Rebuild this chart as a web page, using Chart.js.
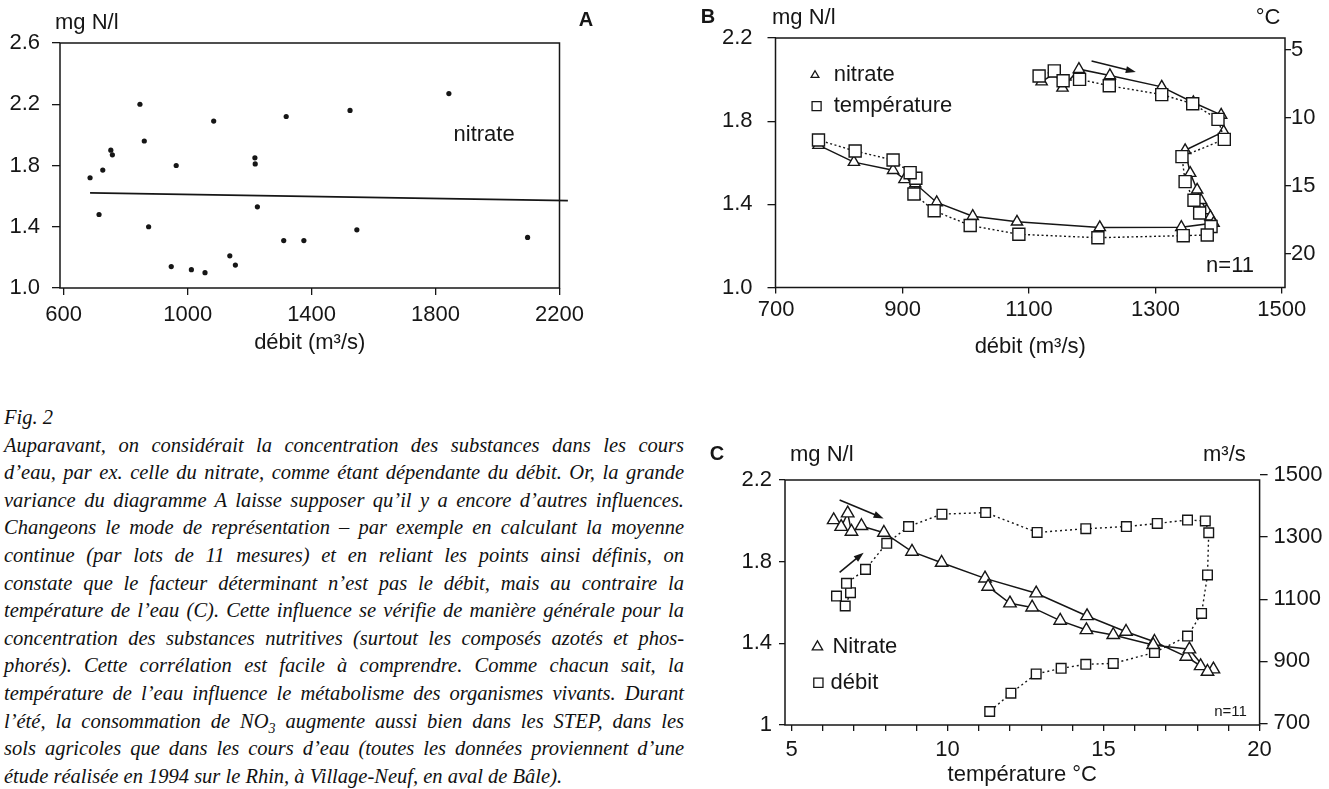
<!DOCTYPE html>
<html lang="fr">
<head>
<meta charset="utf-8">
<title>Nitrate, débit et température – Rhin 1994</title>
<script src="https://cdn.jsdelivr.net/npm/chart.js@4.4.1/dist/chart.umd.min.js"></script>
<style>
  html, body { margin: 0; padding: 0; background: #fff; }
  body { position: relative; width: 1329px; height: 789px; overflow: hidden; }
  canvas { position: absolute; }
  #chartA { left: 0; top: 0; }
  #chartB { left: 690px; top: 0; }
  #chartC { left: 690px; top: 400px; }
  .caption {
    position: absolute; left: 4px; top: 404px; width: 680px;
    font-family: "Liberation Serif", "DejaVu Serif", serif;
    font-style: italic; font-size: 20.5px; line-height: 27.6px; color: #111;
  }
  .caption div { text-align: justify; text-align-last: justify; white-space: nowrap; height: 27.6px; }
  .caption div.plain { text-align-last: left; }
</style>
</head>
<body>
<canvas id="chartA" width="620" height="360"></canvas>
<canvas id="chartB" width="639" height="360"></canvas>
<canvas id="chartC" width="639" height="389"></canvas>

<div class="caption">
  <div class="plain">Fig. 2</div>
  <div>Auparavant, on considérait la concentration des substances dans les cours</div>
  <div>d’eau, par ex. celle du nitrate, comme étant dépendante du débit. Or, la grande</div>
  <div>variance du diagramme A laisse supposer qu’il y a encore d’autres influences.</div>
  <div>Changeons le mode de représentation – par exemple en calculant la moyenne</div>
  <div>continue (par lots de 11 mesures) et en reliant les points ainsi définis, on</div>
  <div>constate que le facteur déterminant n’est pas le débit, mais au contraire la</div>
  <div>température de l’eau (C). Cette influence se vérifie de manière générale pour la</div>
  <div>concentration des substances nutritives (surtout les composés azotés et phos-</div>
  <div>phorés). Cette corrélation est facile à comprendre. Comme chacun sait, la</div>
  <div>température de l’eau influence le métabolisme des organismes vivants. Durant</div>
  <div>l’été, la consommation de NO<sub style="font-size:14px;line-height:0">3</sub> augmente aussi bien dans les STEP, dans les</div>
  <div>sols agricoles que dans les cours d’eau (toutes les données proviennent d’une</div>
  <div class="plain">étude réalisée en 1994 sur le Rhin, à Village-Neuf, en aval de Bâle).</div>
</div>

<script>
// ---- A: single measurements, nitrate against discharge ----
const debitA   = [685, 714, 726, 752, 757, 846, 860, 874, 947, 963, 1012, 1056, 1084,
                  1136, 1154, 1217, 1218, 1225, 1310, 1318, 1375, 1524, 1546, 1843, 2097];
const nitrateA = [1.72, 1.48, 1.77, 1.90, 1.87, 2.20, 1.96, 1.40, 1.14, 1.80, 1.12, 1.10, 2.09,
                  1.21, 1.15, 1.85, 1.81, 1.53, 1.31, 2.12, 1.31, 2.16, 1.38, 2.27, 1.33];
const trendDebitA   = [685, 2227];
const trendNitrateA = [1.621, 1.571];
const ticksDebitA   = [600, 1000, 1400, 1800, 2200];
const ticksNitrateA = [1.0, 1.4, 1.8, 2.2, 2.6];

// ---- B: running means (n=11) against discharge ----
const debitNitrateB = [1120, 1141, 1153, 1179, 1228, 1310, 1360, 1404, 1408, 1347, 1355, 1366, 1372,
                       1381, 1387, 1392, 1341, 1212, 1081, 1011, 954, 920, 903, 885, 823, 767];
const nitrateB      = [1.99, 2.03, 1.96, 2.05, 2.02, 1.965, 1.89, 1.83, 1.75, 1.66, 1.55, 1.47, 1.42,
                       1.37, 1.34, 1.31, 1.29, 1.289, 1.316, 1.343, 1.409, 1.50, 1.52, 1.564, 1.603, 1.685];
const debitTempB = [1116, 1140, 1154, 1180, 1227, 1310, 1359, 1399, 1409, 1342, 1347, 1361, 1370,
                    1388, 1382, 1344, 1209, 1084, 1007, 950, 918, 921, 912, 885, 825, 767];
const tempB      = [6.91, 6.54, 7.26, 7.16, 7.63, 8.28, 8.95, 10.1, 11.57, 12.84, 14.68, 16.05, 16.98,
                    17.98, 18.6, 18.65, 18.8, 18.55, 17.9, 16.82, 15.59, 14.43, 14.02, 13.09, 12.43, 11.62];
const ticksDebitB   = [700, 900, 1100, 1300, 1500];
const ticksNitrateB = [1.0, 1.4, 1.8, 2.2];
const ticksTempB    = [5, 10, 15, 20];

// ---- C: running means (n=11) against water temperature ----
const tempNitrateC = [6.35, 6.59, 6.80, 6.92, 7.24, 7.96, 8.86, 9.81, 11.20, 12.84, 14.47, 15.72, 16.63,
                      17.65, 18.11, 18.52, 18.33, 17.75, 16.59, 15.31, 14.45, 13.61, 12.71, 12.00, 11.30];
const nitrateC     = [2.004, 1.971, 2.037, 1.947, 1.975, 1.942, 1.849, 1.795, 1.718, 1.645, 1.534, 1.457, 1.408,
                      1.335, 1.289, 1.273, 1.261, 1.371, 1.392, 1.441, 1.465, 1.511, 1.576, 1.596, 1.678];
const tempDebitC = [6.44, 6.72, 6.89, 6.76, 7.37, 8.05, 8.75, 9.82, 11.22, 12.87, 14.43, 15.73, 16.72,
                    17.69, 18.26, 18.37, 18.33, 18.14, 17.69, 16.63, 15.31, 14.43, 13.64, 12.84, 12.03, 11.35];
const debitC     = [1110, 1078, 1121, 1151, 1196, 1280, 1334, 1374, 1379, 1315, 1327, 1334, 1344,
                    1355, 1352, 1314, 1178, 1054, 981, 928, 893, 890, 877, 859, 797, 738];
const ticksTempC    = [5, 6, 7, 8, 9, 10, 11, 12, 13, 14, 15, 16, 17, 18, 19, 20];
const ticksNitrateC = [1, 1.4, 1.8, 2.2];
const ticksDebitC   = [700, 900, 1100, 1300, 1500];

const ink = '#161616';
const sans = '"Liberation Sans", Arial, Helvetica, sans-serif';

Chart.defaults.font.family = sans;
Chart.defaults.font.size = 22;
Chart.defaults.color = ink;
Chart.defaults.animation = false;
Chart.defaults.plugins.legend.display = false;
Chart.defaults.plugins.tooltip.enabled = false;

const pts = (xs, ys) => xs.map((x, i) => ({ x: x, y: ys[i] }));

function axis(o) {
  return {
    type: 'linear',
    position: o.position,
    min: o.min,
    max: o.max,
    reverse: !!o.reverse,
    afterBuildTicks: s => { s.ticks = o.ticks.map(v => ({ value: v })); },
    afterFit: s => {
      if (o.width) s.width = o.width;
      if (o.height) s.height = o.height;
    },
    border: { display: false },
    grid: { drawOnChartArea: false, drawTicks: true, tickLength: o.tick, color: ink, lineWidth: 1.3 },
    ticks: { padding: o.pad, color: ink, autoSkip: false, maxRotation: 0, callback: o.fmt || (v => v) },
    title: o.title
      ? { display: true, text: o.title, color: ink, padding: { top: 0, bottom: o.titlePad || 0 } }
      : { display: false }
  };
}

function shape(ctx, kind, x, y, r) {
  ctx.beginPath();
  if (kind === 'triangle') {
    for (let k = 0; k < 3; k++) {
      const a = k * 2 * Math.PI / 3;
      const px = x + Math.sin(a) * r, py = y - Math.cos(a) * r;
      k ? ctx.lineTo(px, py) : ctx.moveTo(px, py);
    }
    ctx.closePath();
  } else {
    const s = Math.SQRT1_2 * r;
    ctx.rect(x - s, y - s, 2 * s, 2 * s);
  }
  ctx.fillStyle = '#fff';
  ctx.fill();
  ctx.stroke();
}

// frame round the plot, plus the texts, keys and arrows of each panel
const notes = {
  id: 'notes',
  afterDraw(chart, args, opts) {
    const { ctx, chartArea: a, scales } = chart;
    const where = n => n.px !== undefined
      ? [n.px, n.py]
      : [scales.x.getPixelForValue(n.x), scales[n.axis || 'y'].getPixelForValue(n.y)];
    ctx.save();
    ctx.strokeStyle = ink;
    ctx.fillStyle = ink;
    ctx.lineWidth = 1.5;
    ctx.strokeRect(a.left, a.top, a.right - a.left, a.bottom - a.top);
    for (const n of opts.items || []) {
      if (n.arrow) {
        const p0 = where(n.arrow[0]), p1 = where(n.arrow[1]);
        const ang = Math.atan2(p1[1] - p0[1], p1[0] - p0[0]);
        ctx.lineWidth = 1.6;
        ctx.beginPath();
        ctx.moveTo(p0[0], p0[1]);
        ctx.lineTo(p1[0] - Math.cos(ang) * 6, p1[1] - Math.sin(ang) * 6);
        ctx.stroke();
        ctx.beginPath();
        ctx.moveTo(p1[0], p1[1]);
        ctx.lineTo(p1[0] - Math.cos(ang) * 10 + Math.sin(ang) * 3.5, p1[1] - Math.sin(ang) * 10 - Math.cos(ang) * 3.5);
        ctx.lineTo(p1[0] - Math.cos(ang) * 10 - Math.sin(ang) * 3.5, p1[1] - Math.sin(ang) * 10 + Math.cos(ang) * 3.5);
        ctx.closePath();
        ctx.fillStyle = ink;
        ctx.fill();
        continue;
      }
      const [x, y] = where(n);
      if (n.shape) {
        ctx.lineWidth = 1.3;
        shape(ctx, n.shape, x, y, n.r);
        continue;
      }
      ctx.fillStyle = ink;
      ctx.font = (n.bold ? 'bold ' : '') + (n.size || 22) + 'px ' + sans;
      ctx.textAlign = n.align || 'left';
      ctx.textBaseline = 'middle';
      ctx.fillText(n.text, x, y);
    }
    ctx.restore();
  }
};

const oneDecimal = v => Number(v).toFixed(1);

// ---------------- A ----------------
new Chart(document.getElementById('chartA'), {
  type: 'scatter',
  data: {
    datasets: [
      { data: pts(debitA, nitrateA), pointRadius: 2.6, pointBorderWidth: 0,
        pointBackgroundColor: ink, showLine: false },
      { data: pts(trendDebitA, trendNitrateA), showLine: true, pointRadius: 0,
        borderColor: ink, borderWidth: 1.8, clip: false }
    ]
  },
  options: {
    responsive: false,
    devicePixelRatio: 1,
    layout: { padding: { left: 0, top: 43, right: 60.5, bottom: 0 } },
    scales: {
      x: axis({ position: 'bottom', min: 588, max: 2200, ticks: ticksDebitA, height: 72,
                tick: 7, pad: 7, title: 'débit (m³/s)', titlePad: 4 }),
      y: axis({ position: 'left', min: 1.0, max: 2.6, ticks: ticksNitrateA, width: 60,
                tick: 8, pad: 12, fmt: oneDecimal })
    },
    plugins: {
      notes: { items: [
        { text: 'mg N/l', px: 55, py: 23 },
        { text: 'A', px: 586, py: 20, bold: true, size: 20, align: 'center' },
        { text: 'nitrate', x: 1858, y: 2.0 }
      ] }
    }
  },
  plugins: [notes]
});

// ---------------- B ----------------
new Chart(document.getElementById('chartB'), {
  type: 'scatter',
  data: {
    datasets: [
      { data: pts(debitTempB, tempB), yAxisID: 'y2', showLine: true,
        borderColor: ink, borderWidth: 1.4, borderDash: [2, 2.5],
        pointStyle: 'rect', pointRadius: 8.5, pointBorderWidth: 1.4,
        pointBorderColor: ink, pointBackgroundColor: '#fff' },
      { data: pts(debitNitrateB, nitrateB), yAxisID: 'y', showLine: true,
        borderColor: ink, borderWidth: 1.5,
        pointStyle: 'triangle', pointRadius: 6.5, pointBorderWidth: 1.4,
        pointBorderColor: ink, pointBackgroundColor: '#fff' }
    ]
  },
  options: {
    responsive: false,
    devicePixelRatio: 1,
    layout: { padding: { left: 0, top: 38, right: 0, bottom: 0 } },
    scales: {
      x: axis({ position: 'bottom', min: 699, max: 1505, ticks: ticksDebitB, height: 72.5,
                tick: 6, pad: 3, title: 'débit (m³/s)', titlePad: 0 }),
      y: axis({ position: 'left', min: 1.0, max: 2.2, ticks: ticksNitrateB, width: 85.5,
                tick: 8, pad: 15, fmt: oneDecimal }),
      y2: axis({ position: 'right', min: 4.12, max: 22.46, reverse: true, ticks: ticksTempB,
                 width: 44, tick: 6, pad: 0 })
    },
    plugins: {
      notes: { items: [
        { text: 'B', px: 18, py: 17, bold: true, size: 20, align: 'center' },
        { text: 'mg N/l', px: 82, py: 18 },
        { text: '°C', px: 578, py: 18, align: 'center' },
        { shape: 'triangle', x: 761.5, y: 2.021, r: 4.5 },
        { text: 'nitrate', x: 791, y: 2.021 },
        { shape: 'rect', x: 764, y: 1.872, r: 6.4 },
        { text: 'température', x: 791, y: 1.872 },
        { text: 'n=11', x: 1418, y: 1.105, align: 'center' },
        { arrow: [{ x: 1199, y: 2.0895 }, { x: 1269, y: 2.0367 }] }
      ] }
    }
  },
  plugins: [notes]
});

// ---------------- C ----------------
new Chart(document.getElementById('chartC'), {
  type: 'scatter',
  data: {
    datasets: [
      { data: pts(tempNitrateC, nitrateC), yAxisID: 'y', showLine: true,
        borderColor: ink, borderWidth: 1.5,
        pointStyle: 'triangle', pointRadius: 7.2, pointBorderWidth: 1.4,
        pointBorderColor: ink, pointBackgroundColor: '#fff' },
      { data: pts(tempDebitC, debitC), yAxisID: 'y2', showLine: true,
        borderColor: ink, borderWidth: 1.4, borderDash: [2, 3],
        pointStyle: 'rect', pointRadius: 6.8, pointBorderWidth: 1.4,
        pointBorderColor: ink, pointBackgroundColor: '#fff' }
    ]
  },
  options: {
    responsive: false,
    devicePixelRatio: 1,
    layout: { padding: { left: 0, top: 80, right: 0, bottom: 0 } },
    scales: {
      x: axis({ position: 'bottom', min: 4.79, max: 20, ticks: ticksTempC, height: 64,
                tick: 6, pad: 6, title: 'température °C', titlePad: 1,
                fmt: v => (v % 5 === 0 ? String(v) : '') }),
      y: axis({ position: 'left', min: 1, max: 2.2, ticks: ticksNitrateC, width: 95,
                tick: 6, pad: 7, fmt: v => (v === 1 ? '1' : Number(v).toFixed(1)) }),
      y2: axis({ position: 'right', min: 694.5, max: 1484, ticks: ticksDebitC, width: 69.4,
                 tick: 8, pad: 6 })
    },
    plugins: {
      notes: { items: [
        { text: 'C', px: 27, py: 54, bold: true, size: 20, align: 'center' },
        { text: 'mg N/l', px: 100, py: 55 },
        { text: 'm³/s', px: 513, py: 55 },
        { shape: 'triangle', x: 5.83, y: 1.383, r: 6 },
        { text: 'Nitrate', x: 6.31, y: 1.383 },
        { shape: 'rect', x: 5.86, y: 1.207, r: 6.5 },
        { text: 'débit', x: 6.25, y: 1.207 },
        { text: 'n=11', x: 19.07, y: 1.065, size: 15, align: 'center' },
        { arrow: [{ x: 6.54, y: 2.102 }, { x: 7.95, y: 2.012 }] },
        { arrow: [{ x: 6.54, y: 1.748 }, { x: 7.31, y: 1.844 }] }
      ] }
    }
  },
  plugins: [notes]
});
</script>
</body>
</html>
